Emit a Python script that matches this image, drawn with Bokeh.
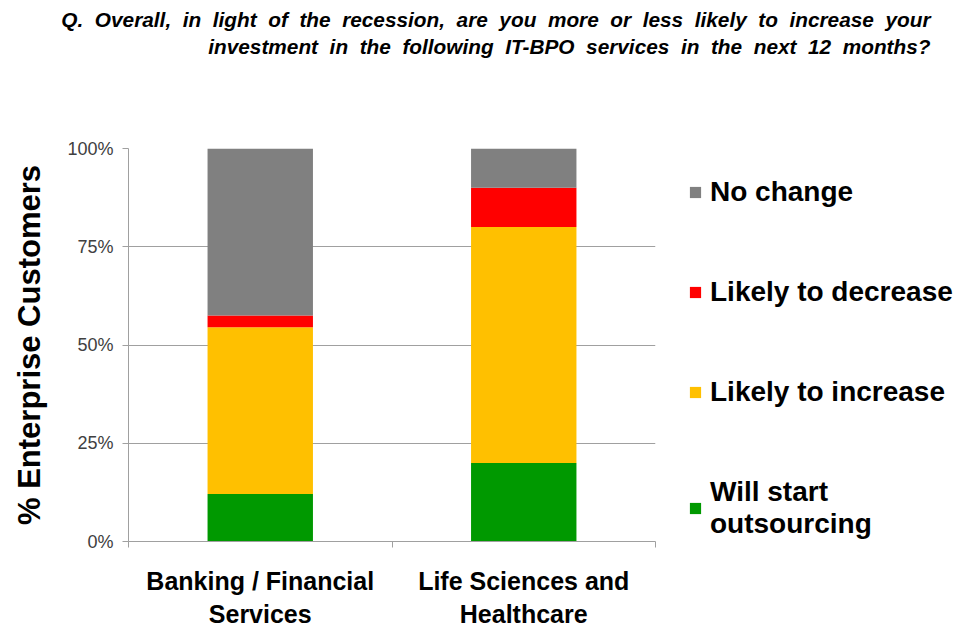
from bokeh.plotting import figure
from bokeh.models import (ColumnDataSource, Legend, LegendItem, Title, FixedTicker,
                          NumeralTickFormatter, Range1d)
from bokeh.embed import file_html
from bokeh.resources import INLINE

# ---- data ----
categories = ["Banking / Financial\nServices", "Life Sciences and\nHealthcare"]
series = ["Will start outsourcing", "Likely to increase", "Likely to decrease", "No change"]
legend_labels = ["Will start\noutsourcing", "Likely to increase", "Likely to decrease", "No change"]
will_start = [0.121, 0.200]
likely_increase = [0.424, 0.600]
likely_decrease = [0.030, 0.100]
no_change = [0.425, 0.100]
colors = ["#009900", "#FFC000", "#FF0000", "#808080"]
y_ticks = [0, 0.25, 0.5, 0.75, 1.0]
title_lines = ["Q. Overall, in light of the recession,  are you more or less likely to increase your",
               "investment  in the following IT-BPO services in the next 12 months?"]
y_label = "% Enterprise Customers"

FONT = "Liberation Sans"


def wide(s):
    # keep the wide word spacing of the original (SVG collapses plain spaces)
    return "\u00a0 ".join(s.split())


x_pos = [i + 0.5 for i in range(len(categories))]
source = ColumnDataSource(dict(x=x_pos, **{
    series[0]: will_start, series[1]: likely_increase,
    series[2]: likely_decrease, series[3]: no_change}))

p = figure(width=955, height=628, output_backend="svg", toolbar_location=None,
           x_range=Range1d(0, len(categories)), y_range=Range1d(0, 1),
           frame_width=527, frame_height=393,
           min_border_left=128, min_border_right=300, min_border_top=148, min_border_bottom=87)
p.outline_line_color = None
p.background_fill_color = "white"

renderers = p.vbar_stack(series, x="x", width=0.4, color=colors, source=source,
                         line_color=None)

# y axis
yax = p.yaxis[0]
yax.ticker = FixedTicker(ticks=y_ticks)
yax.formatter = NumeralTickFormatter(format="0%")
yax.axis_line_color = "#A0A0A0"
yax.major_tick_line_color = "#A0A0A0"
yax.major_tick_out = 6
yax.major_tick_in = 0
yax.minor_tick_line_color = None
yax.major_label_text_font = FONT
yax.major_label_text_font_size = "18px"
yax.major_label_text_color = "#404040"
yax.major_label_standoff = 9
yax.axis_label = y_label
yax.axis_label_text_font = FONT
yax.axis_label_text_font_style = "bold"
yax.axis_label_text_font_size = "31px"
yax.axis_label_text_color = "#000000"
yax.axis_label_standoff = 17

# x axis
xax = p.xaxis[0]
xax.ticker = FixedTicker(ticks=x_pos, minor_ticks=list(range(len(categories) + 1)))
xax.major_label_overrides = {x: c for x, c in zip(x_pos, categories)}
xax.axis_line_color = "#A0A0A0"
xax.major_tick_line_color = None
xax.major_tick_out = 0
xax.major_tick_in = 0
xax.minor_tick_line_color = "#A0A0A0"
xax.minor_tick_out = 6
xax.minor_tick_in = 0
xax.major_label_text_font = FONT
xax.major_label_text_font_style = "bold"
xax.major_label_text_font_size = "25px"
xax.major_label_text_color = "#000000"
xax.major_label_standoff = 19

p.xgrid.grid_line_color = None
p.ygrid.ticker = FixedTicker(ticks=y_ticks)
p.ygrid.grid_line_color = "#A0A0A0"

# legend (outside the frame, in the right panel)
items = [LegendItem(label=lab, renderers=[r]) for lab, r in zip(legend_labels, renderers)]
legend = Legend(items=list(reversed(items)), location=(33, 1),
                glyph_width=14, glyph_height=14, label_standoff=8,
                label_text_font=FONT, label_text_font_style="bold",
                label_text_font_size="28px", label_text_color="#000000",
                spacing=68, padding=0, margin=0, border_line_color=None,
                background_fill_alpha=0)
p.add_layout(legend, "right")

# title: two right-aligned lines at the top (spacer keeps them up)
spacer = Title(text="\u00a0", standoff=77, text_font_size="10px")
t2 = Title(text=wide(title_lines[1]), align="right", offset=-275, standoff=2,
           text_font=FONT, text_font_style="bold italic", text_font_size="20.8px",
           text_color="#000000")
t1 = Title(text=wide(title_lines[0]), align="right", offset=-275, standoff=2,
           text_font=FONT, text_font_style="bold italic", text_font_size="20.8px",
           text_color="#000000")
p.add_layout(spacer, "above")
p.add_layout(t2, "above")
p.add_layout(t1, "above")

open("out.html", "w").write(file_html(p, INLINE))
